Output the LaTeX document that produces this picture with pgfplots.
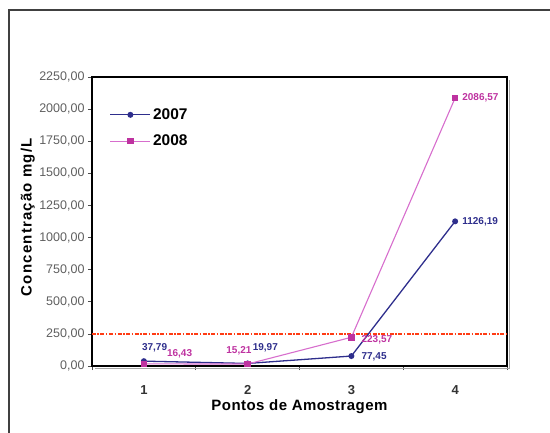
\documentclass[border=0pt]{standalone}
\usepackage{fontspec}
\setmainfont{Liberation Sans}
\usepackage{pgfplots}
\pgfplotsset{compat=1.18}

\definecolor{serA}{RGB}{46,46,140}
\definecolor{serB}{RGB}{190,50,160}
\definecolor{serBline}{RGB}{215,110,205}
\definecolor{limite}{RGB}{255,60,20}
\definecolor{ticktxt}{RGB}{95,95,95}

\begin{document}
\begin{tikzpicture}[x=1pt,y=1pt]
\useasboundingbox (0,0) rectangle (550,432);
% outer chart frame
\draw[line width=1.1pt, black!75] (9,-20) -- (9,422) -- (570,422);

\begin{axis}[
  name=ax,
  at={(92pt,66pt)}, anchor=south west,
  scale only axis, width=415pt, height=289pt,
  xmin=0.5, xmax=4.5, ymin=0, ymax=2250,
  axis line style={line width=2pt},
  xtick={1,2,3,4},
  major x tick style={draw=none},
  minor xtick={0.5,1.5,2.5,3.5,4.5},
  ytick={0,250,...,2250},
  tick align=outside, tick pos=left,
  tick style={black!70, line width=0.6pt},
  major tick length=4pt, minor tick length=4pt,
  xticklabel style={font=\fontsize{13}{14}\selectfont\bfseries, text=black!80, yshift=-12pt},
  yticklabel style={font=\fontsize{12.5}{14}\selectfont, text=ticktxt},
  /pgf/number format/.cd, fixed, fixed zerofill, precision=2, use comma, 1000 sep={}, assume math mode=true,
  /pgfplots/.cd,
  xticklabel={\pgfmathprintnumber[fixed,precision=0]{\tick}},
  xlabel={Pontos de Amostragem},
  xlabel style={font=\fontsize{15}{16}\selectfont\bfseries\addfontfeatures{LetterSpace=3},
    at={(axis description cs:0.5,-0.14)}, anchor=center},
  ylabel={Concentração mg/L},
  ylabel style={font=\fontsize{15}{16}\selectfont\bfseries\addfontfeatures{LetterSpace=8},
    at={(axis description cs:-0.155,0.515)}, anchor=center},
  legend style={at={(0.035,0.905)}, anchor=north west, draw=none, fill=none,
    font=\fontsize{15.5}{16}\selectfont\bfseries, row sep=10pt, legend cell align=left},
  legend image code/.code={\draw[mark repeat=2,mark phase=2] plot coordinates {(0pt,0pt) (20pt,0pt) (40pt,0pt)};},
  clip=false,
]
% limit line
\addplot[limite, line width=1.6pt, dash pattern=on 4pt off 1.5pt on 1.5pt off 1.5pt, forget plot]
  coordinates {(0.5,250) (4.5,250)};

\addplot[serA, line width=1.3pt, mark=*, mark size=2.3pt, mark options={fill=serA}]
  coordinates {(1,37.79) (2,19.97) (3,77.45) (4,1126.19)};
\addlegendentry{2007}

\addplot[serBline, line width=1.1pt, mark=square*, mark size=2.8pt, mark options={fill=serB, draw=serB}]
  coordinates {(1,16.43) (2,15.21) (3,223.57) (4,2086.57)};
\addlegendentry{2008}

% value labels
\begin{scope}[every node/.style={font=\fontsize{10}{11}\selectfont\bfseries, inner sep=0pt}]
\node[text=serA, anchor=south west] at (axis cs:1,37.79) [xshift=-2pt, yshift=9pt] {37,79};
\node[text=serB, anchor=south west] at (axis cs:1,16.43) [xshift=23pt, yshift=6pt] {16,43};
\node[text=serB, anchor=south east] at (axis cs:2,15.21) [xshift=4pt, yshift=9pt] {15,21};
\node[text=serA, anchor=south west] at (axis cs:2,19.97) [xshift=5pt, yshift=11pt] {19,97};
\node[text=serA, anchor=west] at (axis cs:3,77.45) [xshift=10pt, yshift=-1pt] {77,45};
\node[text=serB, anchor=west] at (axis cs:3,223.57) [xshift=10pt, yshift=-2pt] {223,57};
\node[text=serB, anchor=west] at (axis cs:4,2086.57) [xshift=7pt] {2086,57};
\node[text=serA, anchor=west] at (axis cs:4,1126.19) [xshift=7pt] {1126,19};
\end{scope}
\end{axis}
% soft shadow along the plot frame
\draw[black!35, line width=1.5pt] ([xshift=2.5pt,yshift=-3pt]ax.north east) -- ([xshift=2.5pt,yshift=-2.5pt]ax.south east) -- ([xshift=3pt,yshift=-2.5pt]ax.south west);
\end{tikzpicture}
\end{document}
